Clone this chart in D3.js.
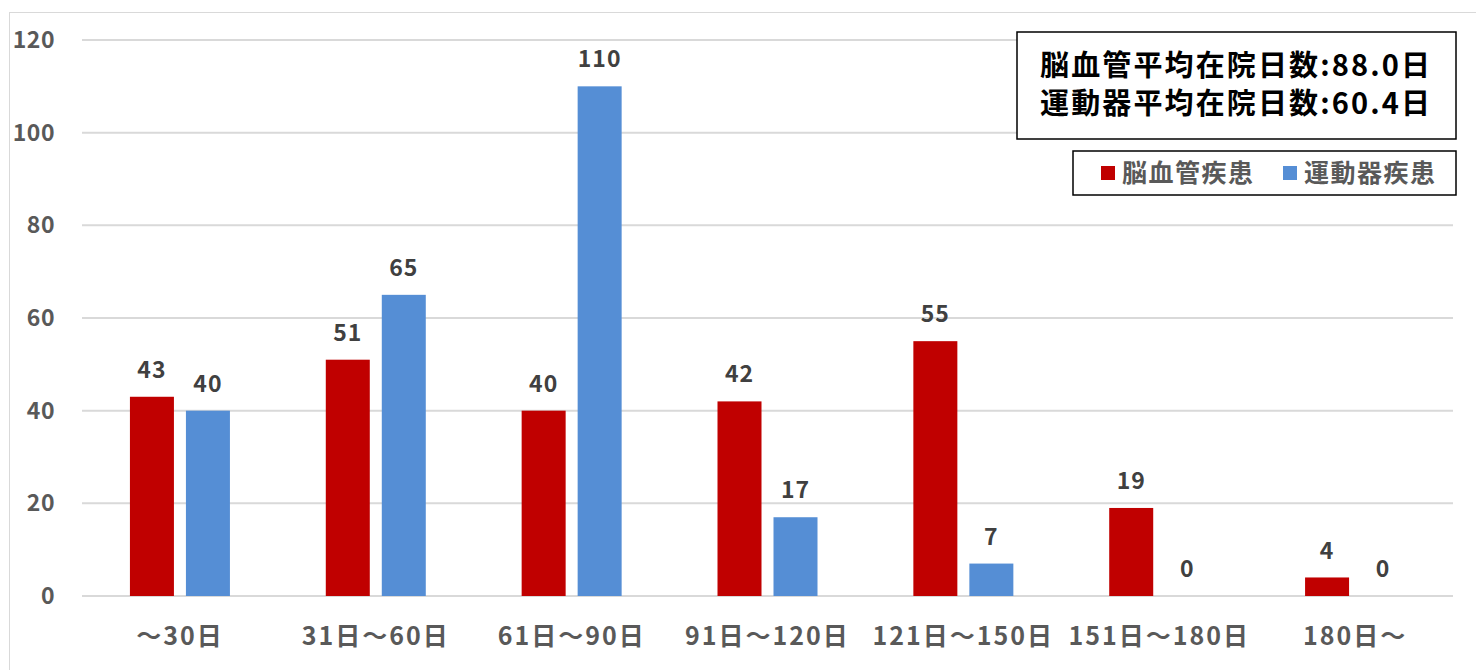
<!DOCTYPE html>
<html><head><meta charset="utf-8">
<script src="https://cdn.jsdelivr.net/npm/d3@7"></script>
<style>
body{margin:0;background:#fff;}
text{font-family:"Noto Sans CJK JP","Noto Sans",sans-serif;font-weight:bold;}
</style></head>
<body><svg id="c" width="1476" height="670"></svg>
<script>
const categories = ["～30日","31日～60日","61日～90日","91日～120日","121日～150日","151日～180日","180日～"];
const seriesNames = ["脳血管疾患","運動器疾患"];
const cerebro = [43,51,40,42,55,19,4];
const locomotor = [40,65,110,17,7,0,0];
const yTicks = [0,20,40,60,80,100,120];
const notes = ["脳血管平均在院日数:88.0日","運動器平均在院日数:60.4日"];
const colors = ["#C00000","#558ED5"];

const svg = d3.select("#c");
svg.append("rect").attr("x",9.5).attr("y",12.5).attr("width",1476).attr("height",670)
  .attr("fill","#fff").attr("stroke","#d9d9d9");

const x = d3.scaleBand().domain(categories).range([82,1453]);
const y = d3.scaleLinear().domain([0,120]).range([596,40]);
const barW = 44, gap = 12;

// gridlines
svg.append("g").selectAll("line").data(yTicks).join("line")
  .attr("x1",82).attr("x2",1453).attr("y1",d=>y(d)).attr("y2",d=>y(d))
  .attr("stroke","#d9d9d9").attr("stroke-width",2);

// y tick labels
svg.append("g").selectAll("text").data(yTicks).join("text")
  .attr("x",55).attr("y",d=>y(d)).attr("dy","0.35em").attr("text-anchor","end")
  .attr("fill","#595959").attr("font-size",23).attr("letter-spacing",0.5).text(d=>d);

// category labels
svg.append("g").selectAll("text").data(categories).join("text")
  .attr("x",d=>x(d)+x.bandwidth()/2).attr("y",636).attr("dy","0.35em").attr("text-anchor","middle")
  .attr("fill","#595959").attr("font-size",25).attr("letter-spacing",2).text(d=>d);

const series = [cerebro, locomotor];
series.forEach((vals,si)=>{
  const g = svg.append("g");
  const cx = (c)=> x(c)+x.bandwidth()/2 + (si===0 ? -(gap/2+barW) : gap/2);
  g.selectAll("rect").data(vals).join("rect")
    .attr("x",(d,i)=>cx(categories[i])).attr("width",barW)
    .attr("y",d=>y(d)).attr("height",d=>y(0)-y(d)).attr("fill",colors[si]);
  g.selectAll("text").data(vals).join("text")
    .attr("x",(d,i)=>cx(categories[i])+barW/2).attr("y",d=>y(d)-27).attr("dy","0.35em")
    .attr("text-anchor","middle").attr("fill","#404040").attr("font-size",23).attr("letter-spacing",1).text(d=>d);
});

// annotation box
svg.append("rect").attr("x",1017).attr("y",32).attr("width",439).attr("height",107)
  .attr("fill","#fff").attr("stroke","#000").attr("stroke-width",1.5);
svg.append("g").selectAll("text").data(notes).join("text")
  .attr("x",1040).attr("y",(d,i)=>66+i*38).attr("dy","0.35em")
  .attr("fill","#000").attr("font-size",29).attr("textLength",390).attr("lengthAdjust","spacing").text(d=>d);

// legend
svg.append("rect").attr("x",1073).attr("y",151).attr("width",383).attr("height",44)
  .attr("fill","#fff").attr("stroke","#000").attr("stroke-width",1.5);
const lx = [1101,1283];
seriesNames.forEach((n,i)=>{
  svg.append("rect").attr("x",lx[i]).attr("y",166).attr("width",14).attr("height",14).attr("fill",colors[i]);
  svg.append("text").attr("x",lx[i]+21).attr("y",173).attr("dy","0.35em")
    .attr("fill","#595959").attr("font-size",25).attr("letter-spacing",1.5).text(n);
});
</script></body></html>
